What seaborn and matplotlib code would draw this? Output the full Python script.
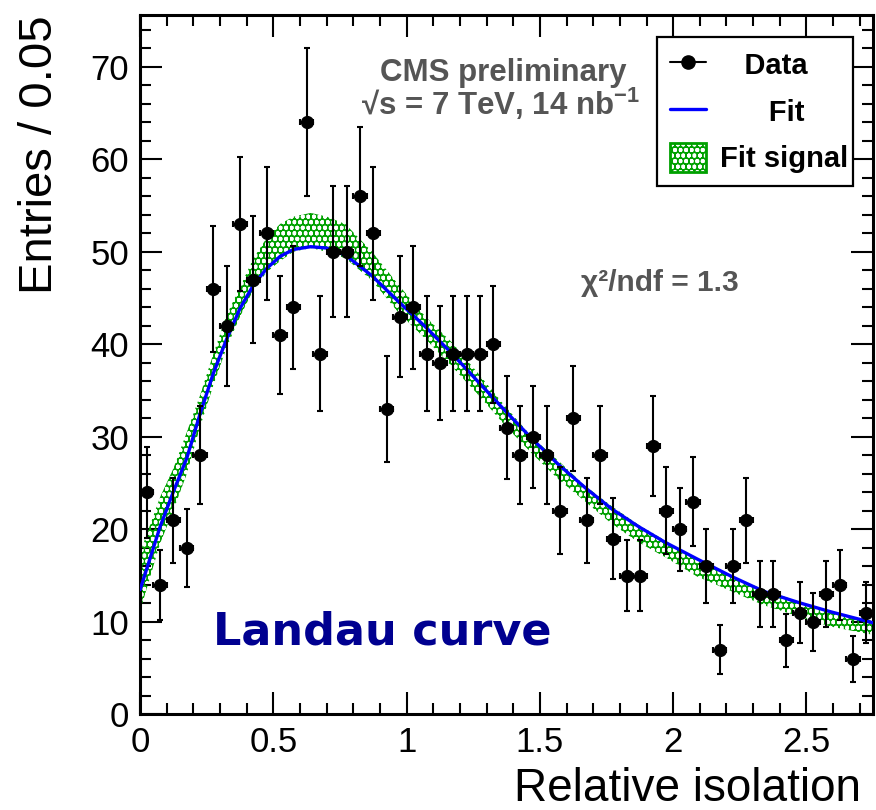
import numpy as np
import pandas as pd
import matplotlib
matplotlib.use("Agg")
import matplotlib.pyplot as plt
import matplotlib.hatch as mhatch
import seaborn as sns
from matplotlib.lines import Line2D
from matplotlib.patches import Patch

# ---------------- data ----------------
bin_width = 0.05
counts = [24, 14, 21, 18, 28, 46, 42, 53, 47, 52,
          41, 44, 64, 39, 50, 50, 56, 52, 33, 43,
          44, 39, 38, 39, 39, 39, 40, 31, 28, 30,
          28, 22, 32, 21, 28, 19, 15, 15, 29, 22,
          20, 23, 16, 7, 16, 21, 13, 13, 8, 11,
          10, 13, 14, 6, 11]
bin_centers = np.arange(len(counts)) * bin_width + bin_width / 2

fit_x = [0.00, 0.075, 0.125, 0.175, 0.225, 0.275, 0.325, 0.375, 0.425, 0.475,
         0.525, 0.575, 0.64, 0.70, 0.77, 0.87, 0.97, 1.07, 1.17, 1.27,
         1.37, 1.47, 1.57, 1.67, 1.77, 1.87, 1.97, 2.09, 2.22, 2.34,
         2.47, 2.59, 2.75]
fit_y = [13.5, 20.3, 24.1, 27.7, 32.5, 36.9, 40.6, 43.9, 46.4, 48.2,
         49.5, 50.25, 50.55, 50.4, 49.65, 47.4, 44.6, 41.9, 39.0, 35.9,
         32.8, 29.8, 27.0, 24.5, 22.2, 20.3, 18.6, 16.8, 14.9, 13.3,
         12.1, 11.1, 9.9]
band_hi = [17.5, 23.5, 26.6, 30.5, 34.5, 39.0, 43.2, 46.2, 49.3, 51.5,
           53.0, 53.8, 54.2, 53.8, 53.0, 50.0, 46.4, 43.0, 40.2, 36.8,
           33.3, 30.0, 27.4, 24.7, 22.5, 20.5, 18.8, 16.6, 14.9, 13.5,
           12.2, 11.1, 10.1]
band_lo = [11.2, 18.5, 22.1, 26.0, 31.1, 35.6, 39.7, 43.0, 45.9, 47.8,
           49.0, 50.0, 50.4, 50.0, 49.3, 46.9, 43.4, 40.6, 37.6, 34.5,
           31.2, 28.2, 25.4, 23.0, 20.6, 18.6, 17.0, 14.9, 13.3, 11.8,
           10.6, 9.5, 8.6]

x_ticks = [0, 0.5, 1, 1.5, 2, 2.5]
x_tick_labels = ["0", "0.5", "1", "1.5", "2", "2.5"]
y_ticks = [0, 10, 20, 30, 40, 50, 60, 70]

df_data = pd.DataFrame({"x": bin_centers, "n": counts})
df_fit = pd.DataFrame({"x": fit_x, "y": fit_y, "lo": band_lo, "hi": band_hi})

# ---------------- style ----------------
sns.set_theme(style="ticks")
plt.rcParams["font.family"] = ["Liberation Sans", "DejaVu Sans"]
plt.rcParams["mathtext.fontset"] = "custom"
plt.rcParams["mathtext.rm"] = "Liberation Sans"
plt.rcParams["mathtext.bf"] = "Liberation Sans:bold"
plt.rcParams["hatch.linewidth"] = 0.55
for k in ["text.color", "axes.labelcolor", "xtick.color", "ytick.color",
          "axes.edgecolor"]:
    plt.rcParams[k] = "black"

# overlapping-circle mesh like ROOT's fill style
mhatch.LargeCircles.size = 0.55
HATCH = "OOO"

GREEN = "#00a000"
BLUE = "#0000ff"
GRAY = "#555555"

fig = plt.figure(figsize=(8.76, 8.10), dpi=100)
ax = fig.add_axes([0.160, 0.118, 0.8366, 0.8636])

# signal band
ax.fill_between(df_fit["x"], df_fit["lo"], df_fit["hi"], facecolor="none",
                edgecolor=GREEN, hatch=HATCH, linewidth=0, zorder=2)
# total fit
sns.lineplot(data=df_fit, x="x", y="y", ax=ax, color=BLUE, linewidth=2.4,
             sort=False, zorder=3)
# data
ax.errorbar(df_data["x"], df_data["n"], yerr=np.sqrt(df_data["n"]),
            xerr=bin_width / 2, fmt="o", color="black", markersize=8.5,
            elinewidth=1.5, capsize=2.5, capthick=1.5, zorder=4)

ax.set_xlim(0, 2.75)
ax.set_ylim(0, 75.6)
ax.set_xticks(x_ticks)
ax.set_xticklabels(x_tick_labels)
ax.set_yticks(y_ticks)
ax.xaxis.set_minor_locator(matplotlib.ticker.MultipleLocator(0.1))
ax.yaxis.set_minor_locator(matplotlib.ticker.MultipleLocator(2))
ax.tick_params(which="both", direction="in", top=True, right=True,
               width=1.5, color="black")
ax.tick_params(which="major", length=16, labelsize=25, pad=8)
ax.tick_params(which="minor", length=8)
for s in ax.spines.values():
    s.set_linewidth(2.2)
    s.set_color("black")

ax.set_xlabel("Relative isolation", fontsize=33, ha="right")
ax.xaxis.set_label_coords(0.984, -0.075)
ax.set_ylabel("Entries / 0.05", fontsize=34, loc="top")
ax.yaxis.set_label_coords(-0.106, 1.0)

# texts
ax.text(0.495, 0.917, "CMS preliminary", transform=ax.transAxes, ha="center",
        va="center", fontsize=22.5, fontweight="bold", color=GRAY)
ax.text(0.492, 0.873, "√s = 7 TeV, 14 nb$^{\\mathbf{-1}}$", transform=ax.transAxes,
        ha="center", va="center", fontsize=22.5, fontweight="bold", color=GRAY)
ax.text(0.709, 0.617, "χ²/ndf = 1.3", transform=ax.transAxes, ha="center",
        va="center", fontsize=21.5, fontweight="bold", color=GRAY)
ax.text(0.330, 0.118, "Landau curve", transform=ax.transAxes, ha="center",
        va="center", fontsize=32, fontweight="bold", color="#000090",
        family=["DejaVu Sans"])

# legend
handles = [
    Line2D([], [], color="black", marker="o", markersize=9.5, linewidth=1.5),
    Line2D([], [], color=BLUE, linewidth=2.4),
    Patch(facecolor="none", edgecolor=GREEN, hatch=HATCH, linewidth=2),
]
labels = ["   Data", "      Fit", "Fit signal"]
leg = ax.legend(handles, labels, loc="upper left",
                bbox_to_anchor=(0.705, 0.9685, 0.268, 0.0), mode="expand",
                prop={"size": 21, "weight": "bold"}, frameon=True,
                fancybox=False, framealpha=1, edgecolor="black",
                borderpad=0.45, handlelength=1.25, handleheight=1.15,
                handletextpad=0.45, labelspacing=0.55, borderaxespad=0)
leg.get_frame().set_linewidth(1.6)
leg.set_zorder(5)

fig.savefig("out.png", dpi=100)
